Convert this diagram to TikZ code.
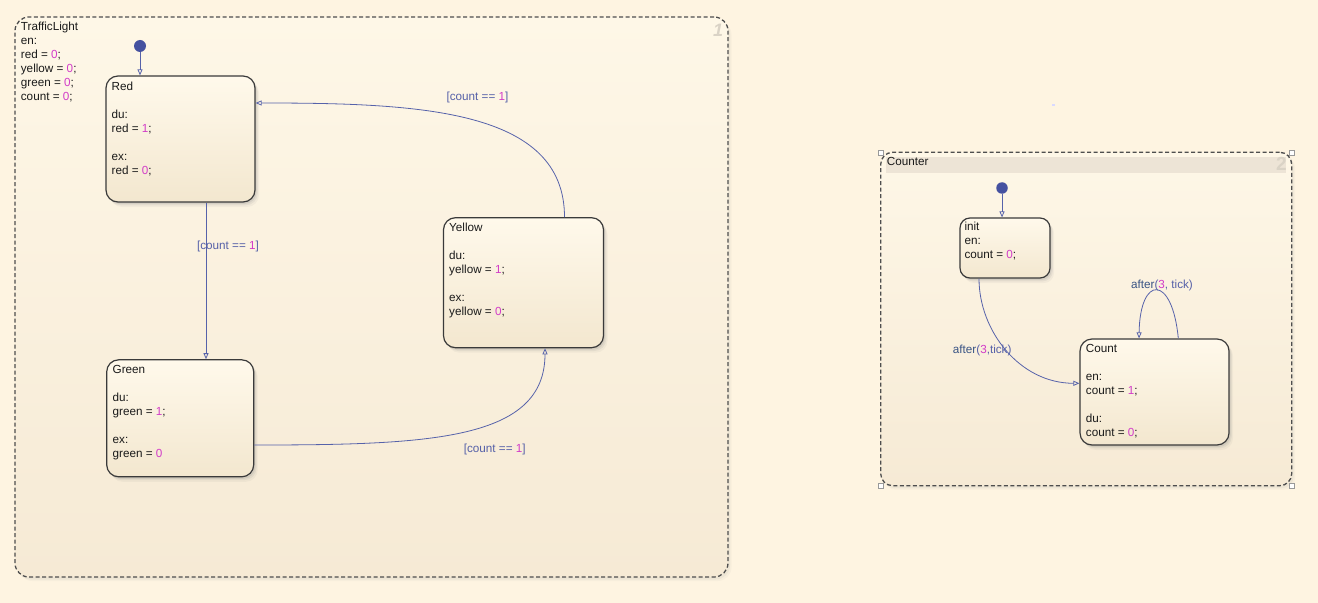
\documentclass[tikz,border=0pt]{standalone}
\usepackage{fontspec}
\setmainfont{Liberation Sans}
\usetikzlibrary{arrows.meta,shadows,calc}

\definecolor{bg}{HTML}{FEF4E1}
\definecolor{charttop}{HTML}{FEF7E7}
\definecolor{chartbot}{HTML}{F6EAD5}
\definecolor{chartline}{HTML}{4E4E4E}
\definecolor{statetop}{HTML}{FFF9EB}
\definecolor{statebot}{HTML}{F3E7CF}
\definecolor{stateline}{HTML}{3A3A3A}
\definecolor{txt}{HTML}{1A1A1A}
\definecolor{numc}{HTML}{D23CC8}
\definecolor{trc}{HTML}{5662AA}
\definecolor{lblc}{HTML}{5560A8}
\definecolor{afterc}{HTML}{385384}
\definecolor{dotc}{HTML}{4551A0}
\definecolor{bandc}{HTML}{EDE4D6}
\definecolor{ghost}{HTML}{DAD3C6}

\newcommand\mg[1]{\textcolor{numc}{#1}}

\tikzset{
  txtfont/.style={font=\fontsize{11.7bp}{14bp}\selectfont},
  softshadow/.style={
    drop shadow={opacity=0.07, shadow xshift=4bp, shadow yshift=-5bp},
    drop shadow={opacity=0.11, shadow xshift=2.8bp, shadow yshift=-3.3bp},
    drop shadow={opacity=0.16, shadow xshift=1.6bp, shadow yshift=-2bp}},
  chartshadow/.style={
    drop shadow={opacity=0.05, shadow xshift=3.5bp, shadow yshift=-4bp},
    drop shadow={opacity=0.08, shadow xshift=2bp, shadow yshift=-2.5bp}},
  chart/.style={draw=chartline, line width=1.3bp, dash pattern=on 4bp off 2.5bp,
    rounded corners=14bp, top color=charttop, bottom color=chartbot,
    inner sep=0pt, chartshadow},
  state/.style={draw=stateline, line width=1.2bp, rounded corners=12bp,
    top color=statetop, bottom color=statebot, inner sep=0pt, softshadow},
  body/.style={txtfont, text=txt, align=left, anchor=north west, inner sep=0pt},
  lbl/.style={txtfont, text=lblc, inner sep=0pt},
  tr/.style={draw=trc, line width=0.8bp, -{Triangle[open, length=6bp, width=5bp]}},
  initdot/.style={circle, fill=dotc, minimum size=12bp, inner sep=0pt},
  handle/.style={draw=gray!80, fill=white, line width=0.5bp, minimum size=5bp, inner sep=0pt},
  chartnum/.style={font=\fontsize{18bp}{18bp}\selectfont\bfseries\itshape, text=ghost, inner sep=0pt}
}

\begin{document}
\begin{tikzpicture}[x=1bp, y=-1bp]
  % canvas
  \fill[bg] (0,0) rectangle (1318,603);
  \useasboundingbox (0,0) rectangle (1318,603);

  % ---------- TrafficLight chart ----------
  \node[chart, minimum width=713bp, minimum height=560bp] (tl) at (371.5,297) {};
  \node[chartnum] (tlnum) at (718,30) {1};
  \node[body] (tltxt) at (20.7,21.7)
    {TrafficLight\\en:\\red = \mg{0};\\yellow = \mg{0};\\green = \mg{0};\\count = \mg{0};};

  \node[initdot] (dotA) at (140,46) {};

  \node[state, minimum width=149bp, minimum height=126bp] (red) at (180.5,139) {};
  \node[body] (redtxt) at (111.5,81.7)
    {Red\\[14bp]du:\\red = \mg{1};\\[14bp]ex:\\red = \mg{0};};

  \node[state, minimum width=160bp, minimum height=130bp] (yellow) at (523.5,282.7) {};
  \node[body] (yellowtxt) at (449,222.4)
    {Yellow\\[14bp]du:\\yellow = \mg{1};\\[14bp]ex:\\yellow = \mg{0};};

  \node[state, minimum width=147bp, minimum height=117bp] (green) at (180.2,418.3) {};
  \node[body] (greentxt) at (112.5,364.7)
    {Green\\[14bp]du:\\green = \mg{1};\\[14bp]ex:\\green = \mg{0}};

  % transitions
  \draw[tr] (dotA) -- (dotA |- red.north);
  \draw[tr] ([xshift=25.5bp]red.south) -- ([xshift=25.5bp]red.south |- green.north);
  \draw[tr] ([xshift=41bp]yellow.north) .. controls +(0,-108) and +(164,0) .. ([yshift=36bp]red.east);
  \draw[tr] ([yshift=-26.7bp]green.east) .. controls +(176,0) and +(0,92) .. ([xshift=21.5bp]yellow.south);

  \node[lbl] (lrg) at (228,246.2) {[count == \mg{1}]};
  \node[lbl] (lyr) at (477.5,97.5) {[count == \mg{1}]};
  \node[lbl] (lgy) at (494.7,449) {[count == \mg{1}]};

  % ---------- Counter chart ----------
  \node[chart, rounded corners=12bp, minimum width=411bp, minimum height=333.4bp] (ct) at (1086.2,319) {};
  \fill[bandc] (886,157) rectangle (1286,173);
  \node[chartnum, font=\fontsize{19bp}{19bp}\selectfont\bfseries] (ctnum) at (1281.5,164) {2};
  \node[body] (cttxt) at (886.7,156.8) {Counter};
  \node[handle] (h1) at (880.7,152.3) {};
  \node[handle] (h2) at (1291.7,152.3) {};
  \node[handle] (h3) at (880.7,485.7) {};
  \node[handle] (h4) at (1291.7,485.7) {};

  \node[initdot, minimum size=11.5bp] (dotB) at (1002,188) {};

  \node[state, minimum width=90bp, minimum height=60bp, rounded corners=10bp] (init) at (1005,248) {};
  \node[body] (inittxt) at (964.3,221.7) {init\\en:\\count = \mg{0};};

  \node[state, minimum width=149bp, minimum height=106bp] (count) at (1154.5,392) {};
  \node[body] (counttxt) at (1085.7,343.7)
    {Count\\[14bp]en:\\count = \mg{1};\\[14bp]du:\\count = \mg{0};};

  \draw[tr] (dotB) -- (dotB |- init.north);
  \draw[tr] ([xshift=-26bp]init.south) .. controls +(0,52) and +(-60,0) .. ([yshift=8.7bp]count.west);
  \draw[tr] ([xshift=23.8bp]count.north) .. controls +(-6,-64) and +(1,-64) .. ([xshift=-15.5bp]count.north);

  \node[lbl] (lic) at (982.2,350.7) {\textcolor{afterc}{after}(\mg{3},tick)};
  \node[lbl] (lcc) at (1162,285) {\textcolor{afterc}{after}(\mg{3}, tick)};

  % stray marker
  \fill[blue!15] (1052,104) rectangle (1054.5,106.5);
\end{tikzpicture}
\end{document}
